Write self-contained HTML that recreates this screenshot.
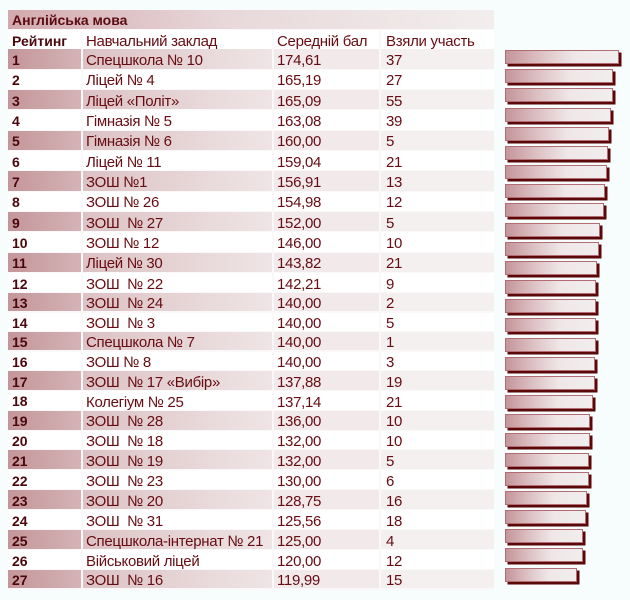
<!DOCTYPE html>
<html><head><meta charset="utf-8">
<style>
html,body{margin:0;padding:0;}
body{width:630px;height:600px;background:#f7fdfd;position:relative;overflow:hidden;font-family:"Liberation Sans","DejaVu Sans",sans-serif;font-size:15px;letter-spacing:-0.3px;color:#660c12;}
.c{position:absolute;box-sizing:border-box;white-space:nowrap;display:flex;align-items:center;}
.title{left:8px;top:10px;width:486px;height:19px;background:linear-gradient(to right,#d2aaae 0%,#e8d8da 45%,#f3eeee 100%);font-weight:bold;color:#5a0a10;padding-left:4px;font-size:14px;letter-spacing:0;}
.h{top:30px;height:19px;background:#ffffff;}
.k1{left:8px;width:73px;padding-left:4px;padding-top:2px;font-weight:bold;color:#4a080c;font-size:14px;letter-spacing:0;}
.k2{left:83px;width:189px;padding-left:3px;padding-top:3px;}
.k3{left:274px;width:105px;padding-left:3px;padding-top:3px;}
.k4{left:381px;width:113px;padding-left:5px;padding-top:3px;}
.o.k1{background:linear-gradient(to right,#c4969a,#d4b3b6);}
.o.k2{background:linear-gradient(to right,#dcc2c4,#efe5e6);}
.o.k3{background:#f1e9ea;}
.o.k4{background:#f4f0f0;}
.e{background:#ffffff;}
.gap{position:absolute;left:8px;width:486px;background:#faf8f8;}
.b{position:absolute;left:504.5px;height:14px;box-sizing:border-box;border:1px solid #b26c74;background:linear-gradient(to right,#c5959a 0%,#dcc0c3 30%,#efe6e7 60%,#f1eeee 100%);box-shadow:2.5px 2.5px 0 #5a0808;}
</style></head><body>
<div class="gap" style="top:29px;height:561px;"></div>
<div class="c title">Англійська мова</div>
<div class="c h k1">Рейтинг</div>
<div class="c h k2">Навчальний заклад</div>
<div class="c h k3">Середній бал</div>
<div class="c h k4">Взяли участь</div>

<div class="c o k1" style="top:49.3px;height:19.3px">1</div><div class="c o k2" style="top:49.3px;height:19.3px">Спецшкола № 10</div><div class="c o k3" style="top:49.3px;height:19.3px">174,61</div><div class="c o k4" style="top:49.3px;height:19.3px">37</div>
<div class="c e k1" style="top:69.6px;height:19.4px">2</div><div class="c e k2" style="top:69.6px;height:19.4px">Ліцей № 4</div><div class="c e k3" style="top:69.6px;height:19.4px">165,19</div><div class="c e k4" style="top:69.6px;height:19.4px">27</div>
<div class="c o k1" style="top:90px;height:19.3px">3</div><div class="c o k2" style="top:90px;height:19.3px">Ліцей «Політ»</div><div class="c o k3" style="top:90px;height:19.3px">165,09</div><div class="c o k4" style="top:90px;height:19.3px">55</div>
<div class="c e k1" style="top:110.3px;height:19.4px">4</div><div class="c e k2" style="top:110.3px;height:19.4px">Гімназія № 5</div><div class="c e k3" style="top:110.3px;height:19.4px">163,08</div><div class="c e k4" style="top:110.3px;height:19.4px">39</div>
<div class="c o k1" style="top:130.7px;height:19.3px">5</div><div class="c o k2" style="top:130.7px;height:19.3px">Гімназія № 6</div><div class="c o k3" style="top:130.7px;height:19.3px">160,00</div><div class="c o k4" style="top:130.7px;height:19.3px">5</div>
<div class="c e k1" style="top:151px;height:19.3px">6</div><div class="c e k2" style="top:151px;height:19.3px">Ліцей № 11</div><div class="c e k3" style="top:151px;height:19.3px">159,04</div><div class="c e k4" style="top:151px;height:19.3px">21</div>
<div class="c o k1" style="top:171.3px;height:19.4px">7</div><div class="c o k2" style="top:171.3px;height:19.4px">ЗОШ №1</div><div class="c o k3" style="top:171.3px;height:19.4px">156,91</div><div class="c o k4" style="top:171.3px;height:19.4px">13</div>
<div class="c e k1" style="top:191.7px;height:19.3px">8</div><div class="c e k2" style="top:191.7px;height:19.3px">ЗОШ № 26</div><div class="c e k3" style="top:191.7px;height:19.3px">154,98</div><div class="c e k4" style="top:191.7px;height:19.3px">12</div>
<div class="c o k1" style="top:212px;height:19.3px">9</div><div class="c o k2" style="top:212px;height:19.3px">ЗОШ&nbsp; № 27</div><div class="c o k3" style="top:212px;height:19.3px">152,00</div><div class="c o k4" style="top:212px;height:19.3px">5</div>
<div class="c e k1" style="top:232.3px;height:19.4px">10</div><div class="c e k2" style="top:232.3px;height:19.4px">ЗОШ № 12</div><div class="c e k3" style="top:232.3px;height:19.4px">146,00</div><div class="c e k4" style="top:232.3px;height:19.4px">10</div>
<div class="c o k1" style="top:252.7px;height:19.3px">11</div><div class="c o k2" style="top:252.7px;height:19.3px">Ліцей № 30</div><div class="c o k3" style="top:252.7px;height:19.3px">143,82</div><div class="c o k4" style="top:252.7px;height:19.3px">21</div>
<div class="c e k1" style="top:273px;height:19.3px">12</div><div class="c e k2" style="top:273px;height:19.3px">ЗОШ&nbsp; № 22</div><div class="c e k3" style="top:273px;height:19.3px">142,21</div><div class="c e k4" style="top:273px;height:19.3px">9</div>
<div class="c o k1" style="top:293.3px;height:18.2px">13</div><div class="c o k2" style="top:293.3px;height:18.2px">ЗОШ&nbsp; № 24</div><div class="c o k3" style="top:293.3px;height:18.2px">140,00</div><div class="c o k4" style="top:293.3px;height:18.2px">2</div>
<div class="c e k1" style="top:312.5px;height:18.2px">14</div><div class="c e k2" style="top:312.5px;height:18.2px">ЗОШ&nbsp; № 3</div><div class="c e k3" style="top:312.5px;height:18.2px">140,00</div><div class="c e k4" style="top:312.5px;height:18.2px">5</div>
<div class="c o k1" style="top:331.7px;height:18.8px">15</div><div class="c o k2" style="top:331.7px;height:18.8px">Спецшкола № 7</div><div class="c o k3" style="top:331.7px;height:18.8px">140,00</div><div class="c o k4" style="top:331.7px;height:18.8px">1</div>
<div class="c e k1" style="top:351.5px;height:18.8px">16</div><div class="c e k2" style="top:351.5px;height:18.8px">ЗОШ № 8</div><div class="c e k3" style="top:351.5px;height:18.8px">140,00</div><div class="c e k4" style="top:351.5px;height:18.8px">3</div>
<div class="c o k1" style="top:371.3px;height:18.8px">17</div><div class="c o k2" style="top:371.3px;height:18.8px">ЗОШ&nbsp; № 17 «Вибір»</div><div class="c o k3" style="top:371.3px;height:18.8px">137,88</div><div class="c o k4" style="top:371.3px;height:18.8px">19</div>
<div class="c e k1" style="top:391.1px;height:18.8px">18</div><div class="c e k2" style="top:391.1px;height:18.8px">Колегіум № 25</div><div class="c e k3" style="top:391.1px;height:18.8px">137,14</div><div class="c e k4" style="top:391.1px;height:18.8px">21</div>
<div class="c o k1" style="top:410.9px;height:18.7px">19</div><div class="c o k2" style="top:410.9px;height:18.7px">ЗОШ&nbsp; № 28</div><div class="c o k3" style="top:410.9px;height:18.7px">136,00</div><div class="c o k4" style="top:410.9px;height:18.7px">10</div>
<div class="c e k1" style="top:430.6px;height:18.8px">20</div><div class="c e k2" style="top:430.6px;height:18.8px">ЗОШ&nbsp; № 18</div><div class="c e k3" style="top:430.6px;height:18.8px">132,00</div><div class="c e k4" style="top:430.6px;height:18.8px">10</div>
<div class="c o k1" style="top:450.4px;height:18.8px">21</div><div class="c o k2" style="top:450.4px;height:18.8px">ЗОШ&nbsp; № 19</div><div class="c o k3" style="top:450.4px;height:18.8px">132,00</div><div class="c o k4" style="top:450.4px;height:18.8px">5</div>
<div class="c e k1" style="top:470.2px;height:18.8px">22</div><div class="c e k2" style="top:470.2px;height:18.8px">ЗОШ&nbsp; № 23</div><div class="c e k3" style="top:470.2px;height:18.8px">130,00</div><div class="c e k4" style="top:470.2px;height:18.8px">6</div>
<div class="c o k1" style="top:490px;height:19px">23</div><div class="c o k2" style="top:490px;height:19px">ЗОШ&nbsp; № 20</div><div class="c o k3" style="top:490px;height:19px">128,75</div><div class="c o k4" style="top:490px;height:19px">16</div>
<div class="c e k1" style="top:510px;height:19px">24</div><div class="c e k2" style="top:510px;height:19px">ЗОШ&nbsp; № 31</div><div class="c e k3" style="top:510px;height:19px">125,56</div><div class="c e k4" style="top:510px;height:19px">18</div>
<div class="c o k1" style="top:530px;height:19px">25</div><div class="c o k2" style="top:530px;height:19px">Спецшкола-інтернат № 21</div><div class="c o k3" style="top:530px;height:19px">125,00</div><div class="c o k4" style="top:530px;height:19px">4</div>
<div class="c e k1" style="top:550px;height:19px">26</div><div class="c e k2" style="top:550px;height:19px">Військовий ліцей</div><div class="c e k3" style="top:550px;height:19px">120,00</div><div class="c e k4" style="top:550px;height:19px">12</div>
<div class="c o k1" style="top:570px;height:18px">27</div><div class="c o k2" style="top:570px;height:18px">ЗОШ&nbsp; № 16</div><div class="c o k3" style="top:570px;height:18px">119,99</div><div class="c o k4" style="top:570px;height:18px">15</div>

<div class="b" style="top:50px;width:114.2px"></div>
<div class="b" style="top:69.17px;width:108.2px"></div>
<div class="b" style="top:88.34px;width:108.2px"></div>
<div class="b" style="top:107.51px;width:106.2px"></div>
<div class="b" style="top:126.68px;width:104.5px"></div>
<div class="b" style="top:145.85px;width:103.8px"></div>
<div class="b" style="top:165.02px;width:102.2px"></div>
<div class="b" style="top:184.19px;width:100.8px"></div>
<div class="b" style="top:203.36px;width:99.2px"></div>
<div class="b" style="top:222.53px;width:95.5px"></div>
<div class="b" style="top:241.7px;width:94.2px"></div>
<div class="b" style="top:260.87px;width:92.8px"></div>
<div class="b" style="top:280.04px;width:91.2px"></div>
<div class="b" style="top:299.21px;width:91.2px"></div>
<div class="b" style="top:318.38px;width:91.5px"></div>
<div class="b" style="top:337.55px;width:91.5px"></div>
<div class="b" style="top:356.72px;width:90.2px"></div>
<div class="b" style="top:375.89px;width:90.2px"></div>
<div class="b" style="top:395.06px;width:88.8px"></div>
<div class="b" style="top:414.23px;width:85.8px"></div>
<div class="b" style="top:433.4px;width:85.8px"></div>
<div class="b" style="top:452.57px;width:84.8px"></div>
<div class="b" style="top:471.74px;width:84.2px"></div>
<div class="b" style="top:490.91px;width:82.2px"></div>
<div class="b" style="top:510.08px;width:81.8px"></div>
<div class="b" style="top:529.25px;width:78.5px"></div>
<div class="b" style="top:548.42px;width:78.5px"></div>
<div class="b" style="top:567.59px;width:72.2px"></div>
</body></html>
